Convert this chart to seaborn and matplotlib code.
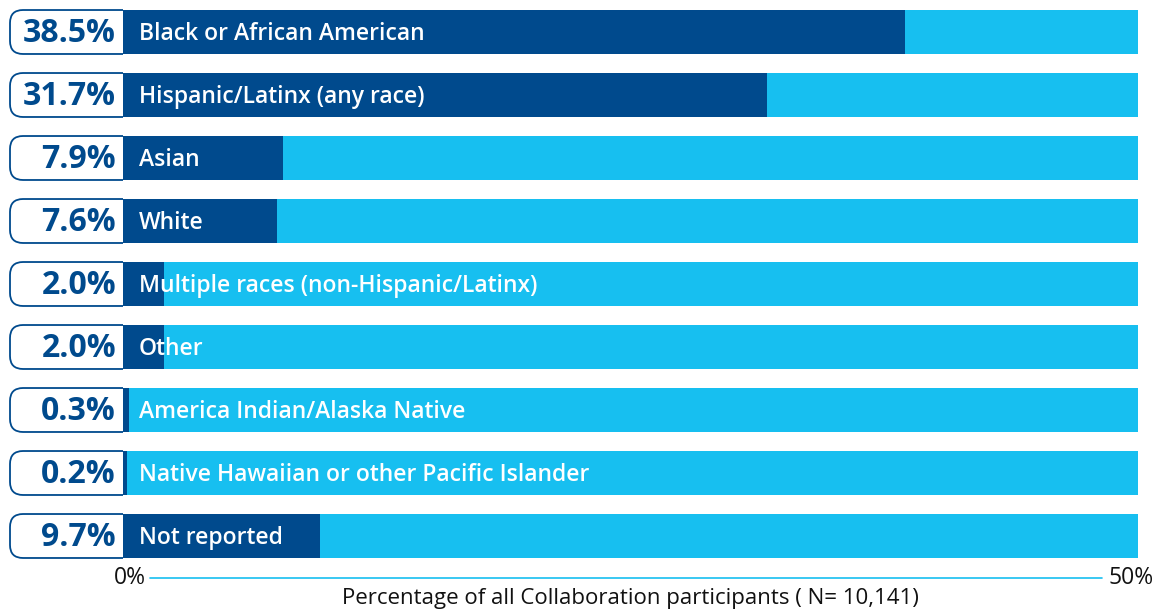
import numpy as np
import pandas as pd
import matplotlib
matplotlib.use("Agg")
import matplotlib.pyplot as plt
import seaborn as sns
from matplotlib.patches import FancyBboxPatch, Rectangle

groups = ["Black or African American", "Hispanic/Latinx (any race)", "Asian", "White",
          "Multiple races (non-Hispanic/Latinx)", "Other", "America Indian/Alaska Native",
          "Native Hawaiian or other Pacific Islander", "Not reported"]
pct = [38.5, 31.7, 7.9, 7.6, 2.0, 2.0, 0.3, 0.2, 9.7]
axis_max = 50
xlabel = "Percentage of all Collaboration participants ( N= 10,141)"

dark = "#004A8D"
light = "#17BFF0"

sns.set_theme(style="white")
plt.rcParams['font.family'] = ['Open Sans', 'DejaVu Sans']

df = pd.DataFrame({"group": groups, "pct": pct, "full": [axis_max] * len(groups)})

fig = plt.figure(figsize=(11.62, 6.11), dpi=100)
# axes from 0% (x=123px) to 50% (x=1138px)
ax = fig.add_axes([123 / 1162, 1 - 567.5 / 611, 1015 / 1162, 567 / 611])

bw = 0.698
sns.barplot(data=df, x="full", y="group", orient="h", color=light, saturation=1,
            width=bw, linewidth=0, ax=ax, zorder=2)
sns.barplot(data=df, x="pct", y="group", orient="h", color=dark, saturation=1,
            width=bw, linewidth=0, ax=ax, zorder=3)

ax.set_xlim(0, axis_max)
ax.set_ylim(len(groups) - 0.5, -0.5)
sns.despine(ax=ax, left=True, bottom=True)
ax.set_yticks([])
ax.set_xticks([])
ax.set_ylabel("")

# px per data unit
sx = 1015 / axis_max
sy = 63.0
for i, (g, v) in enumerate(zip(groups, pct)):
    # label box: rounded on the left, cut square where the bar starts
    box = FancyBboxPatch((-113 / sx, i - bw / 2), 113 / sx + 1.0, bw,
                         boxstyle="round,pad=0,rounding_size=%.3f" % (13 / sx),
                         mutation_aspect=sx / sy,
                         facecolor="white", edgecolor=dark, linewidth=1.3,
                         clip_on=True, zorder=1)
    ax.add_patch(box)
    clip = Rectangle((-8.0, i - 0.5), 8.0, 1.0, transform=ax.transData)
    box.set_clip_path(clip)
    ax.text(-7 / sx, i + 0.02, "%.1f%%" % v, ha="right", va="center",
            fontsize=23, fontweight="bold", color=dark, clip_on=False, zorder=5)
    ax.text(16 / sx, i + 0.03, g, ha="left", va="center",
            fontsize=16.5, fontweight="semibold", color="white", zorder=5)

# decorative axis line with end labels
yl = len(groups) - 0.5 + 10.5 / sy
ax.plot([27 / sx, 979 / sx], [yl, yl], color=light, lw=1.2, clip_on=False)
ax.text(7 / sx, yl, "0%", ha="center", va="center", fontsize=16.5, color="#111111")
ax.text(axis_max - 7 / sx, yl, "50%", ha="center", va="center", fontsize=16.5,
        color="#111111")

ax.set_xlabel(xlabel, fontsize=16, color="#111111")
ax.xaxis.set_label_coords(0.5, -0.036)

fig.savefig("out.png", dpi=100)
